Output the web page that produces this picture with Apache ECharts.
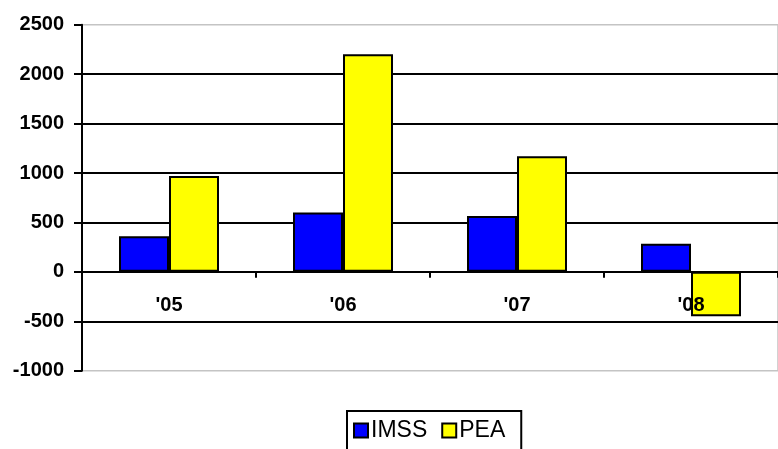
<!DOCTYPE html>
<html>
<head>
<meta charset="utf-8">
<script src="https://cdn.jsdelivr.net/npm/echarts@6/dist/echarts.min.js"></script>
<style>
html,body{margin:0;padding:0;background:#fff;}
#chart{width:778px;height:449px;}
</style>
</head>
<body>
<div id="chart"></div>
<script>
const categories = ["'05", "'06", "'07", "'08"];
const imss = [360, 600, 565, 285];
const pea = [970, 2200, 1170, -450];
const yMin = -1000, yMax = 2500, yStep = 500;

const chart = echarts.init(document.getElementById('chart'), null, {renderer: 'canvas'});
const font = 'Liberation Sans, Arial, sans-serif';
chart.setOption({
  animation: false,
  backgroundColor: '#fff',
  textStyle: {fontFamily: font},
  grid: {left: 82, top: 24.7, width: 704, bottom: 78.3, containLabel: false,
         show: true, borderColor: '#c4c4c4', borderWidth: 1.5, backgroundColor: 'transparent'},
  legend: {
    left: 347, top: 411,
    orient: 'horizontal',
    borderColor: '#000', borderWidth: 2,
    padding: [8, 16, 40, 6],
    itemWidth: 14, itemHeight: 14, itemGap: 14,
    textStyle: {fontFamily: font, fontSize: 23, color: '#000', padding: [0, 0, 0, -2]},
    icon: 'rect',
    itemStyle: {borderColor: '#000', borderWidth: 2},
    data: ['IMSS', 'PEA']
  },
  xAxis: {
    type: 'category',
    data: categories,
    z: 5,
    axisLine: {onZero: true, lineStyle: {color: '#000', width: 2}},
    axisTick: {show: true, length: 6, lineStyle: {color: '#000', width: 2}},
    axisLabel: {fontFamily: font, fontSize: 20, fontWeight: 'bold', color: '#000', margin: -75},
    splitLine: {show: false}
  },
  yAxis: {
    type: 'value',
    min: yMin, max: yMax, interval: yStep,
    axisLine: {show: true, lineStyle: {color: '#000', width: 2}},
    axisTick: {show: true, length: 8, lineStyle: {color: '#000', width: 2}},
    axisLabel: {fontFamily: font, fontSize: 20, fontWeight: 'bold', color: '#000', margin: 18,
                formatter: function (v) { return String(v); }},
    splitLine: {show: true, showMinLine: false, showMaxLine: false, lineStyle: {color: '#000', width: 2}}
  },
  series: [
    {name: 'IMSS', type: 'bar', data: imss, barWidth: 50, barGap: '0%',
     itemStyle: {color: '#0000ff', borderColor: '#000', borderWidth: 2}},
    {name: 'PEA', type: 'bar', data: pea, barWidth: 50, barGap: '0%',
     itemStyle: {color: '#ffff00', borderColor: '#000', borderWidth: 2}}
  ]
});
</script>
</body>
</html>
